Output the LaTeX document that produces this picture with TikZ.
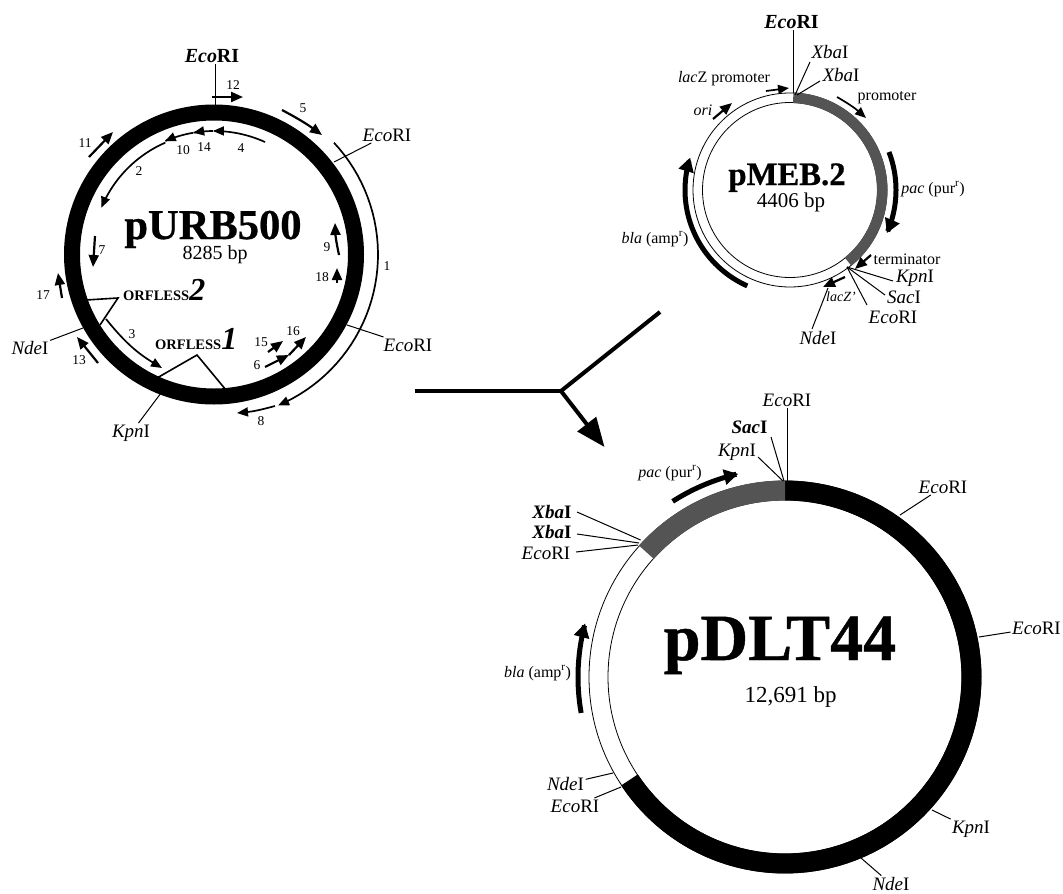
\documentclass[tikz,border=0pt]{standalone}
\usepackage{fontspec}
\setmainfont{Liberation Serif}
\newfontfamily\heavy[UprightFont=* Bold,FakeBold=0.7]{Liberation Serif}
\usetikzlibrary{arrows.meta}
\newcommand{\fs}[1]{\fontsize{#1}{#1}\selectfont}
\newcommand{\ringseg}[6]{% cx cy router rinner a b
  plot[domain=#5:#6,samples=80] ({#1+#3*cos(\x)},{#2-#3*sin(\x)}) --
  plot[domain=#6:#5,samples=80] ({#1+#4*cos(\x)},{#2-#4*sin(\x)}) -- cycle}
\newcommand{\carc}[6]{% style cx cy r a b
  \draw[#1] plot[domain=#5:#6,samples=40] ({#2+#4*cos(\x)},{#3-#4*sin(\x)});}
\newcommand{\lead}[2]{\coordinate (#1-end) at (#2); \draw[leader] (#1) -- (#1-end);}
\newcommand{\Eco}{\textit{Eco}RI}
\newcommand{\Xba}{\textit{Xba}I}
\newcommand{\Kpn}{\textit{Kpn}I}
\newcommand{\Sac}{\textit{Sac}I}
\newcommand{\Nde}{\textit{Nde}I}
\tikzset{
  site/.style={font=\fs{19},inner sep=1.5pt},
  boldsite/.style={font=\fs{19}\bfseries,inner sep=1.5pt},
  feat/.style={font=\fs{16},inner sep=1pt},
  num/.style={font=\fs{13.5},inner sep=0pt},
  title/.style={anchor=base,inner sep=0pt},
  size/.style={anchor=base,inner sep=0pt},
  orf/.style={font=\fs{14.5}\bfseries,anchor=base west,inner sep=0pt},
  leader/.style={line width=1pt},
  triline/.style={line width=1.6pt,line join=miter},
  thinring/.style={line width=0.8pt},
  arr/.style={line width=1.7pt,-{Triangle[length=11pt,width=9pt]}},
  sarr/.style={line width=2.2pt,-{Triangle[length=12pt,width=10pt]}},
  fatarr/.style={line width=5pt,-{Triangle[length=14pt,width=15pt]}},
  big/.style={line width=4pt},
}
\definecolor{stip}{gray}{0.33}
\begin{document}
\begin{tikzpicture}[x=1pt,y=-1pt]
\useasboundingbox (0,0) rectangle (1063,894);
\fill[white] (0,0) rectangle (1063,894);

% ---------- pURB500 ----------
\draw[line width=16pt] (214,254.5) circle[radius=142pt];
\node[title,font=\fs{42.5}\heavy] (urb) at (213,239) {pURB500};
\node[size,font=\fs{20}] (urbbp) at (215,259) {8285 bp};

\node[boldsite,font=\fs{20}\bfseries] (eA) at (212,56) {\Eco};
\coordinate (eAend) at (215,105);
\draw[leader] (eAend |- eA.south) -- (eAend);
\node[site] (eB) at (387,135) {\Eco};  \lead{eB}{334,162}
\node[site] (eC) at (408,345) {\Eco};  \lead{eC}{347,325}
\node[site] (nA) at (30,348) {\Nde};   \lead{nA}{83,328}
\node[site] (kA) at (131,433) {\Kpn};  \lead{kA}{161,393}

\node[orf] (o1) at (155,349) {ORFLESS{\fs{32}\itshape 1}};
\node[orf] (o2) at (123,300) {ORFLESS{\fs{32}\itshape 2}};
\draw[triline] (157,378) -- (197,355) -- (226,390);
\draw[triline] (86,300) -- (118,298) -- (100,325);

\foreach \n/\px/\py/\t in {a12/233/85/12, a5/303/108/5, a1/387/266/1, a8/261/421/8, a9/327/247/9,
  a18/322/277/18, a15/261/342/15, a16/293/331/16, a6/257/365/6, a3/132/334/3, a7/102/250/7,
  a17/43/295/17, a13/79/360/13, a11/85/143/11, a2/139/171/2, a10/183/150/10, a14/204/147/14, a4/241/148/4}
  {\node[num] (\n) at (\px,\py) {\t};}

\draw[sarr] (212,97) -- (243,97);
\draw[sarr] (282,110) to[bend left=4] (322,135);
\carc{arr}{214}{254.5}{164}{43}{-67}
\draw[arr] (275,406) to[bend left=5] (237,413);
\draw[sarr] (339,255) to[bend left=5] (335,223);
\draw[sarr] (337,283) -- (337,268);
\draw[sarr] (268,352) -- (283,341);
\draw[sarr] (265,367) -- (289,355);
\draw[sarr] (289,355) -- (306,337);
\draw[arr] (106,319) to[bend right=10] (162,368);
\draw[sarr] (95,236) -- (93,267);
\draw[sarr] (62,298) -- (58,273);
\draw[sarr] (98,363) -- (77,337);
\draw[sarr] (89,157) -- (113,132);
\carc{arr}{214}{254.5}{123.5}{65.6}{90.5}
\carc{arr}{214}{254.5}{123.5}{90.5}{99.7}
\carc{arr}{214}{254.5}{123.5}{99.7}{113.5}
\carc{arr}{214}{254.5}{122}{113.5}{157.5}

% ---------- pMEB.2 ----------
\draw[thinring] (790,190) circle[radius=97pt];
\draw[thinring] (790,190) circle[radius=87.5pt];
\fill[stip] \ringseg{790}{190}{97.5}{87}{88}{-51};
\node[title,font=\fs{32.7}\heavy] (meb) at (787,185) {pMEB.2};
\node[size,font=\fs{21}] (mebbp) at (791,207) {4406 bp};

\node[boldsite,font=\fs{20}\bfseries] (eD) at (791.5,22) {\Eco};
\coordinate (eDend) at (793,93);
\draw[leader] (eDend |- eD.south) -- (eDend);
\node[site] (xA) at (830,52) {\Xba};
\node[site] (xB) at (841,75) {\Xba};
\coordinate (xAs) at (810,62); \coordinate (xAe) at (795,95); \draw[leader] (xAs) -- (xAe);
\coordinate (xBs) at (820,81); \coordinate (xBe) at (797,95); \draw[leader] (xBs) -- (xBe);

\node[feat] (lzp) at (724,79) {\textit{lac}Z promoter};
\node[feat] (ori) at (703,110) {\textit{ori}};
\node[feat] (bla) at (655,239) {\textit{bla} (amp\textsuperscript{r})};
\node[feat] (prom) at (887,98) {promoter};
\node[feat] (pac) at (933,189) {\textit{pac} (pur\textsuperscript{r})};
\node[feat] (term) at (907,259) {terminator};
\node[feat,font=\fs{14}] (lz) at (841,297) {\textit{lacZ'}};
\node[site] (kB) at (915,278) {\Kpn};
\node[site] (sB) at (904,297) {\Sac};
\node[site] (eE) at (893,317) {\Eco};
\node[site] (nB) at (818,338) {\Nde};
\coordinate (kBs) at (893,281); \coordinate (sBs) at (885,295); \coordinate (eEs) at (867,305); \coordinate (nBs) at (812,329);
\coordinate (hub) at (847,267);
\draw[leader] (kBs) -- (hub); \draw[leader] (sBs) -- (hub); \draw[leader] (eEs) -- (hub);
\coordinate (nBe) at (828,288); \draw[leader] (nBs) -- (nBe);

\draw[arr] (766,91) -- (789,88);
\draw[sarr] (713,119) -- (732,103);
\draw[arr] (837,97) to[bend left=6] (866,118);
\draw[sarr] (871,255) -- (855,269);
\draw[sarr] (845,277) -- (823,287);
\carc{fatarr}{790}{190}{105}{246}{162}
\carc{fatarr}{790}{190}{106}{21}{-24}

% ---------- connector ----------
\coordinate (yL) at (415,391); \coordinate (yJ) at (561,391); \coordinate (yU) at (660,312);
\coordinate (yT) at (604.5,447);
\draw[big] (yL) -- (yJ);
\draw[big] (yU) -- (yJ);
\draw[big,-{Triangle[length=29pt,width=23pt,sep=0pt]}] (yJ) -- (yT);

% ---------- pDLT44 ----------
\draw[thinring] (785,677) circle[radius=196pt];
\draw[thinring] (785,677) circle[radius=177pt];
\fill[black] \ringseg{785}{677}{196.5}{176.5}{90}{-146.5};
\fill[stip] \ringseg{785}{677}{196.5}{176.5}{90}{138};
\node[title,font=\fs{66}\heavy] (dlt) at (780,660) {pDLT44};
\node[size,font=\fs{23}] (dltbp) at (790.5,702) {12,691 bp};

\node[site] (eF) at (787,400) {\Eco};
\coordinate (eFend) at (787,482); \draw[leader] (eFend |- eF.south) -- (eFend);
\node[boldsite] (sC) at (749.5,427) {\Sac};
\node[site] (kC) at (737,452) {\Kpn};
\coordinate (sCs) at (771,437); \coordinate (sCe) at (784,481); \draw[leader] (sCs) -- (sCe);
\coordinate (kCs) at (758,457); \coordinate (kCe) at (783,481); \draw[leader] (kCs) -- (kCe);
\node[feat] (pacC) at (670,473) {\textit{pac} (pur\textsuperscript{r})};
\carc{fatarr}{785}{677}{208.5}{122.6}{103}
\node[boldsite] (xC) at (552,512) {\Xba};
\node[boldsite] (xD) at (552,532) {\Xba};
\node[site] (eG) at (546,553) {\Eco};
\coordinate (xCs) at (577,512); \coordinate (xCe) at (640.6,540); \draw[leader] (xCs) -- (xCe);
\coordinate (xDs) at (577,534); \coordinate (xDe) at (639,543); \draw[leader] (xDs) -- (xDe);
\coordinate (eGs) at (576,552); \coordinate (eGe) at (638,545); \draw[leader] (eGs) -- (eGe);
\node[site] (eH) at (943,487) {\Eco};   \lead{eH}{900,515}
\node[site] (eI) at (1036.5,628) {\Eco}; \lead{eI}{979,637}
\node[site] (kD) at (971,829) {\Kpn};   \lead{kD}{932,810}
\node[site] (nD) at (891,884) {\Nde};   \lead{nD}{861,858}
\node[site] (nC) at (565.5,784) {\Nde}; \lead{nC}{613,773}
\node[site] (eJ) at (575,806) {\Eco};   \lead{eJ}{621,787}
\node[feat] (blaC) at (537.6,673) {\textit{bla} (amp\textsuperscript{r})};
\carc{fatarr}{785}{677}{207}{190}{165}
\end{tikzpicture}
\end{document}
